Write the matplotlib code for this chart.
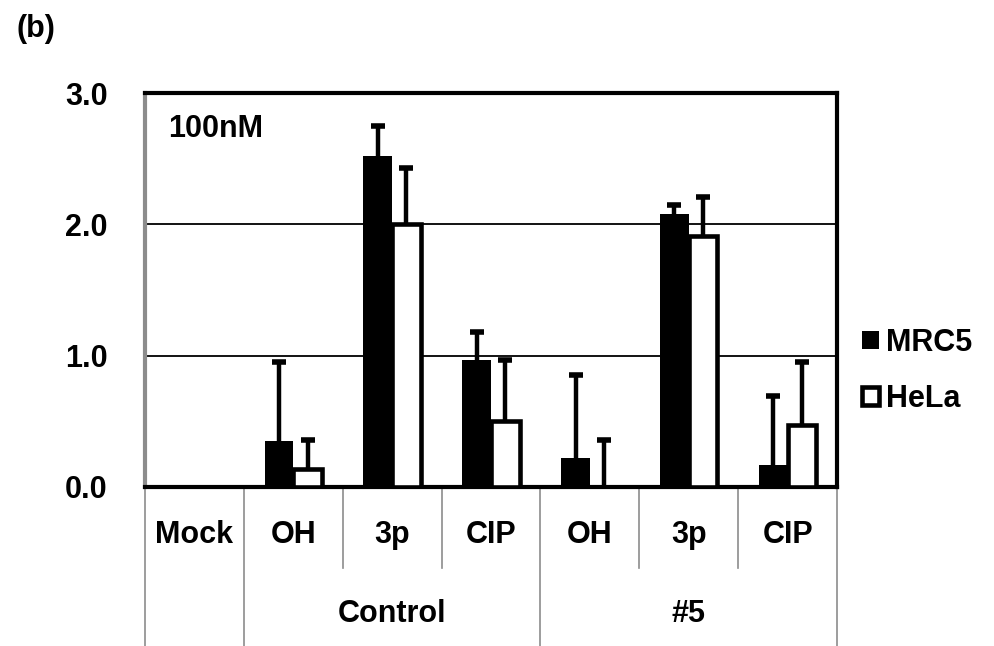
import matplotlib
matplotlib.use("Agg")
import matplotlib.pyplot as plt
import numpy as np

plt.rcParams['font.family'] = ['Liberation Sans', 'DejaVu Sans']
plt.rcParams['font.weight'] = 'bold'

categories = ["Mock", "OH", "3p", "CIP", "OH", "3p", "CIP"]
groups = ["Control", "#5"]
mrc5 = [0.0, 0.35, 2.52, 0.97, 0.22, 2.08, 0.17]
mrc5_err = [0.0, 0.60, 0.23, 0.21, 0.63, 0.07, 0.52]
hela = [0.0, 0.14, 2.0, 0.50, 0.0, 1.91, 0.47]
hela_err = [0.0, 0.22, 0.43, 0.47, 0.36, 0.30, 0.48]
yticks = [0.0, 1.0, 2.0, 3.0]

FS = 22

fig = plt.figure(figsize=(9.94, 6.46), dpi=100)
ax = fig.add_axes([145/994, 1-487/646, (837-145)/994, (487-93)/646])

x = np.arange(len(categories))
w = 0.29
ax.bar(x - w/2, mrc5, width=w, color='black', edgecolor='black', linewidth=0, zorder=3)
ax.bar(x + w/2, hela, width=w, color='white', edgecolor='black', linewidth=3.3, zorder=3)


def upper_errors(xpos, vals, errs):
    idx = [i for i in range(len(xpos)) if errs[i] > 0]
    xs = np.array(xpos)[idx]
    lo = np.array(vals)[idx]
    hi = lo + np.array(errs)[idx]
    ax.vlines(xs, lo, hi, colors='black', linewidth=3.2, zorder=2)
    ax.plot(xs, hi, linestyle='none', marker='_', markersize=10, markeredgewidth=4,
            color='black', zorder=2)


upper_errors(x - w/2, mrc5, mrc5_err)
upper_errors(x + w/2, hela, hela_err)

ax.set_xlim(-0.5, len(categories) - 0.5)
ax.set_ylim(0, 3.0)
ax.set_yticks(yticks)
ax.set_yticklabels([f"{v:.1f}" for v in yticks], fontsize=FS, fontweight='bold')
ax.tick_params(axis='y', length=0, pad=27)
ax.set_xticks([])
for yv in [1.0, 2.0]:
    ax.axhline(yv, color='black', linewidth=1.3, zorder=1)

for s in ['top', 'right', 'bottom']:
    ax.spines[s].set_color('black')
    ax.spines[s].set_linewidth(3)
ax.spines['left'].set_color('#8c8c8c')
ax.spines['left'].set_linewidth(3)

# table below axis
trans = matplotlib.transforms.blended_transform_factory(ax.transData, ax.transAxes)
ax_h = 487 - 93
inner_bot = (487 - 568) / ax_h
outer_bot = (487 - 660) / ax_h
for b in [-0.5, 0.5, 3.5, 6.5]:
    ax.plot([b, b], [0, outer_bot], transform=trans, color='#8c8c8c', linewidth=1.2, clip_on=False)
for b in [1.5, 2.5, 4.5, 5.5]:
    ax.plot([b, b], [0, inner_bot], transform=trans, color='#8c8c8c', linewidth=1.2, clip_on=False)

cat_y = (487 - 535) / ax_h
for xi, c in zip(x, categories):
    ax.text(xi, cat_y, c, transform=trans, ha='center', va='center', fontsize=FS, fontweight='bold')
grp_y = (487 - 614) / ax_h
ax.text(2.0, grp_y, groups[0], transform=trans, ha='center', va='center', fontsize=FS, fontweight='bold')
ax.text(5.0, grp_y, groups[1], transform=trans, ha='center', va='center', fontsize=FS, fontweight='bold')

ax.text((168-145)/692, (487-129)/ax_h, "100nM", transform=ax.transAxes, ha='left', va='center',
        fontsize=FS, fontweight='bold')
fig.text(16/994, 1-29/646, "(b)", ha='left', va='center', fontsize=FS, fontweight='bold')

from matplotlib.patches import Patch
handles = [Patch(facecolor='black', edgecolor='black', linewidth=0),
           Patch(facecolor='white', edgecolor='black', linewidth=3.3)]
leg = fig.legend(handles, ["MRC5", "HeLa"], loc='center left',
                 bbox_to_anchor=(862/994, 1-371/646), frameon=False,
                 borderaxespad=0, borderpad=0,
                 prop={'size': FS, 'weight': 'bold'}, handlelength=0.55, handleheight=0.55,
                 handletextpad=0.25, labelspacing=0.85)

fig.savefig("out.png", dpi=100)
